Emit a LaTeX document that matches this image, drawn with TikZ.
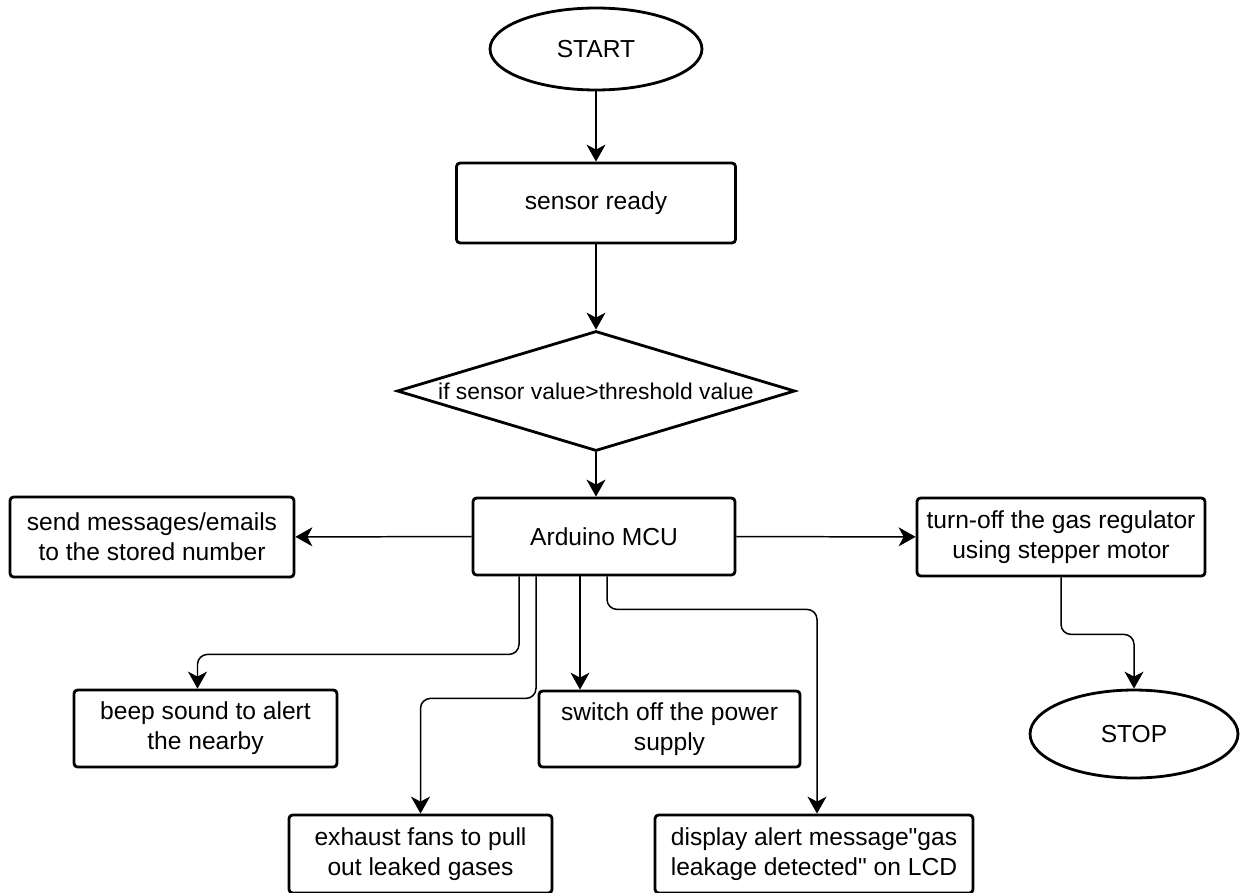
\documentclass[tikz,border=0pt]{standalone}
\usepackage{fontspec}
\setmainfont{Liberation Sans}
\usetikzlibrary{shapes.geometric,arrows.meta,positioning,calc}
\begin{document}
\begin{tikzpicture}[
        x=0.02cm, y=-0.02cm,
        every node/.style={font=\fontsize{14}{17}\selectfont, align=center, inner sep=2pt},
        box/.style={rectangle, draw=black, line width=1.6pt, fill=white, minimum width=5.26cm, minimum height=1.56cm, rounded corners=2pt},
        terminal/.style={ellipse, draw=black, line width=1.6pt, fill=white, minimum width=4.24cm, minimum height=1.64cm},
        decision/.style={diamond, draw=black, line width=1.6pt, fill=white, aspect=3.3, inner sep=0pt, minimum width=7.96cm, minimum height=2.4cm, font=\fontsize{13}{16}\selectfont},
        arrow/.style={-{Stealth[length=0.34cm, width=0.38cm, inset=0.1cm]}, line width=0.85pt, draw=black, rounded corners=0.2cm}
    ]
        \useasboundingbox (0,0) rectangle (1240,892);

        % Nodes
        \node[terminal] (start) at (596,49) {START};
        \node[box, minimum width=5.58cm, minimum height=1.6cm] (ready) at (596,203) {sensor ready};
        \node[decision] (cond) at (596,391) {if sensor value>threshold value};
        \node[box, minimum width=5.24cm, minimum height=1.54cm] (mcu) at (604,536.5) {Arduino MCU};
        \node[box, minimum width=5.68cm, minimum height=1.6cm] (send) at (152,537) {send messages/emails\\to the stored number};
        \node[box, minimum width=5.76cm] (gasoff) at (1061,537) {turn-off the gas regulator\\using stepper motor};
        \node[terminal, minimum width=4.16cm, minimum height=1.76cm] (stop) at (1134,734) {STOP};
        \node[box, minimum height=1.54cm] (beep) at (205.5,728.5) {beep sound to alert\\the nearby};
        \node[box, minimum width=5.22cm, minimum height=1.52cm] (power) at (669.5,729) {switch off the power\\supply};
        \node[box] (exhaust) at (420.5,854) {exhaust fans to pull\\out leaked gases};
        \node[box, minimum width=6.36cm] (display) at (814,854) {display alert message\textquotedbl gas\\leakage detected\textquotedbl{} on LCD};

        % Branch points under the MCU
        \coordinate (b1) at ($(mcu.south)+(-85,0)$);
        \coordinate (b2) at ($(mcu.south)+(-68,0)$);
        \coordinate (b3) at ($(mcu.south)+(-24,0)$);
        \coordinate (b4) at ($(mcu.south)+(3,0)$);

        % Edges
        \draw[arrow] (start) -- (ready);
        \draw[arrow] (ready) -- (cond);
        \draw[arrow] (cond.south) -- (cond.south |- mcu.north);
        \draw[arrow] (mcu) -- (send);
        \draw[arrow] (mcu) -- (gasoff);
        \draw[arrow] (gasoff.south) -- ++(0,57) -| (stop.north);
        \draw[arrow] (b1) -- ++(0,78) -| ($(beep.north)+(-8,0)$);
        \draw[arrow] (b2) -- ++(0,122) -| (exhaust.north);
        \draw[arrow] (b3) -- (b3 |- power.north);
        \draw[arrow] (b4) -- ++(0,33) -| ($(display.north)+(3,0)$);
    \end{tikzpicture}
\end{document}
